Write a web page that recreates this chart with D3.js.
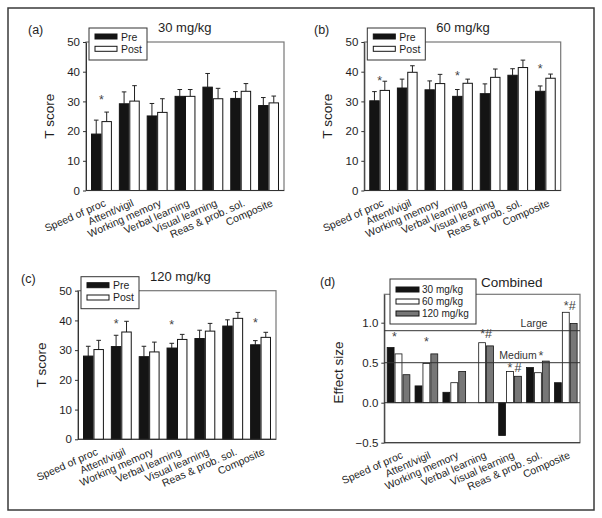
<!DOCTYPE html>
<html><head><meta charset="utf-8">
<script src="https://cdn.jsdelivr.net/npm/d3@7/dist/d3.min.js"></script>
<style>
body{margin:0;background:#fff;}
svg{display:block;font-family:"Liberation Sans",Arial,Helvetica,sans-serif;}
</style></head><body>
<svg id="chart" width="602" height="518"></svg>
<script>
// ---------------- DATA ----------------
const categories = ["Speed of proc","Attent/vigil","Working memory","Verbal learning","Visual learning","Reas & prob. sol.","Composite"];
const groups = ["Pre","Post"];
const tTicks = [0,10,20,30,40,50];
const esTicks = [-0.5,0,0.5,1.0];

const pre30   = [19.0,29.2,25.1,31.7,34.8,31.0,28.6];
const pre30E  = [4.7,4.0,4.2,2.3,4.6,2.3,2.7];
const post30  = [23.2,30.1,26.3,31.7,30.9,33.4,29.5];
const post30E = [3.2,5.2,4.6,2.3,3.5,2.6,2.3];

const pre60   = [30.2,34.5,33.9,31.7,32.6,38.8,33.4];
const pre60E  = [3.1,3.0,3.0,2.3,3.3,2.2,1.8];
const post60  = [33.7,39.8,36.0,36.1,38.1,41.4,37.8];
const post60E = [3.1,2.2,3.1,1.4,2.8,2.5,1.4];

const pre120   = [28.0,31.2,27.8,30.7,33.9,38.1,31.8];
const pre120E  = [3.3,3.8,3.5,1.6,2.8,2.1,1.4];
const post120  = [30.2,36.1,29.4,33.6,36.4,40.7,34.3];
const post120E = [3.1,3.6,3.3,1.7,2.6,2.0,1.7];

const es30  = [0.69,0.21,0.13,0,-0.41,0.44,0.25];
const es60  = [0.61,0.49,0.25,0.75,0.39,0.375,1.13];
const es120 = [0.35,0.61,0.39,0.71,0.33,0.52,0.99];
const esSeries = ["30 mg/kg","60 mg/kg","120 mg/kg"];

// significance marks: category, bar it sits over, value level, text
const stars30  = [{cat:"Speed of proc", over:"mid", v:30.8, t:"*"}];
const stars60  = [{cat:"Speed of proc", over:"mid", v:37.2, t:"*"},
                  {cat:"Verbal learning", over:"Pre", v:38.9, t:"*"},
                  {cat:"Composite", over:"Pre", v:41.3, t:"*"}];
const stars120 = [{cat:"Attent/vigil", over:"Pre", v:39.2, t:"*"},
                  {cat:"Verbal learning", over:"Pre", v:38.8, t:"*"},
                  {cat:"Composite", over:"Pre", v:39.6, t:"*"}];
const starsES  = [{cat:"Speed of proc", over:"60 mg/kg", v:0.83, t:"*", dx:-4},
                  {cat:"Attent/vigil", over:"60 mg/kg", v:0.77, t:"*", dx:0},
                  {cat:"Verbal learning", over:"60 mg/kg", v:0.87, t:"*#", dx:4},
                  {cat:"Visual learning", over:"60 mg/kg", v:0.45, t:"*", dx:0},
                  {cat:"Visual learning", over:"120 mg/kg", v:0.45, t:"#", dx:0},
                  {cat:"Reas & prob. sol.", over:"60 mg/kg", v:0.60, t:"*", dx:3},
                  {cat:"Composite", over:"60 mg/kg", v:1.22, t:"*#", dx:4}];
const refLines = [{v:0.9, label:"Large"},{v:0.5, label:"Medium"}];

// ---------------- DRAW ----------------
const svg = d3.select("#chart");
svg.append("rect").attr("x",8).attr("y",8).attr("width",586).attr("height",502)
  .attr("fill","none").attr("stroke","#3a3a3a").attr("stroke-width",1.5);

const FRAME = "#777", AX = "#333", TXT = "#1e1e1e";

function xLabels(g, x, y0){
  g.selectAll("text.xl").data(categories).join("text")
    .attr("class","xl")
    .attr("transform", d => `translate(${x(d)+x.bandwidth()/2+5},${y0+15}) rotate(-24)`)
    .attr("text-anchor","end").attr("font-size",10.5).attr("fill",TXT).text(d=>d);
}

function yAxis(g, y, ticks, left, fmt){
  const a = d3.axisLeft(y).tickValues(ticks).tickSize(3).tickSizeOuter(0).tickPadding(3);
  if (fmt) a.tickFormat(fmt);
  const ax = g.append("g").attr("transform",`translate(${left},0)`).call(a);
  ax.selectAll("text").attr("font-size",11.5).attr("fill",TXT).attr("font-family","Liberation Sans, Arial, sans-serif");
  ax.selectAll("line").attr("stroke",AX);
  ax.select(".domain").attr("stroke",AX);
}

function prePost(cfg){
  const {left,right,top,bottom,letter,letterX,title,pre,preE,post,postE,stars} = cfg;
  const g = svg.append("g");
  const x = d3.scaleBand().domain(categories).range([left,right]).paddingInner(0.25).paddingOuter(0.18);
  const xs = d3.scaleBand().domain(groups).range([0,x.bandwidth()]);
  const y = d3.scaleLinear().domain([0,50]).range([bottom,top]);
  g.append("rect").attr("x",left).attr("y",top).attr("width",right-left).attr("height",bottom-top)
    .attr("fill","none").attr("stroke",FRAME).attr("stroke-width",1.2);
  const rows = categories.map((c,i)=>[
    {c, s:"Pre", v:pre[i], e:preE[i]},
    {c, s:"Post", v:post[i], e:postE[i]}]).flat();
  const eb = g.selectAll("g.eb").data(rows).join("g").attr("class","eb");
  eb.append("line").attr("x1",d=>x(d.c)+xs(d.s)+xs.bandwidth()/2).attr("x2",d=>x(d.c)+xs(d.s)+xs.bandwidth()/2)
    .attr("y1",d=>y(d.v)).attr("y2",d=>y(d.v+d.e)).attr("stroke","#222");
  eb.append("line").attr("x1",d=>x(d.c)+xs(d.s)+xs.bandwidth()/2-2.3).attr("x2",d=>x(d.c)+xs(d.s)+xs.bandwidth()/2+2.3)
    .attr("y1",d=>y(d.v+d.e)).attr("y2",d=>y(d.v+d.e)).attr("stroke","#222");
  g.selectAll("rect.bar").data(rows).join("rect").attr("class","bar")
    .attr("x",d=>x(d.c)+xs(d.s)+0.5).attr("width",xs.bandwidth()-1)
    .attr("y",d=>y(d.v)).attr("height",d=>y(0)-y(d.v))
    .attr("fill",d=>d.s==="Pre"?"#141414":"#fff").attr("stroke","#141414").attr("stroke-width",1);
  yAxis(g,y,tTicks,left);
  g.append("line").attr("x1",left).attr("x2",right).attr("y1",bottom).attr("y2",bottom).attr("stroke",AX);
  xLabels(g,x,bottom);
  g.selectAll("text.st").data(stars).join("text").attr("class","st")
    .attr("x",d=> d.over==="mid" ? x(d.cat)+xs.bandwidth() : x(d.cat)+xs(d.over)+xs.bandwidth()/2)
    .attr("y",d=>y(d.v)+5).attr("text-anchor","middle").attr("font-size",12.5).attr("fill","#444").text(d=>d.t);
  g.append("text").attr("transform",`translate(${left-32},${(top+bottom)/2}) rotate(-90)`)
    .attr("text-anchor","middle").attr("font-size",13.5).attr("fill",TXT).text("T score");
  const lg = g.append("g").attr("transform",`translate(${left+3},${top-14})`);
  lg.append("rect").attr("width",58).attr("height",32).attr("fill","#fff").attr("stroke","#333");
  groups.forEach((s,i)=>{
    lg.append("rect").attr("x",6).attr("y",6+i*12.3).attr("width",22).attr("height",5)
      .attr("fill",s==="Pre"?"#141414":"#fff").attr("stroke","#141414");
    lg.append("text").attr("x",32).attr("y",12.5+i*12.3).attr("font-size",10.5).attr("fill",TXT).text(s);
  });
  g.append("text").attr("x",left+72).attr("y",top-10).attr("font-size",13).attr("fill",TXT).text(title);
  g.append("text").attr("x",letterX).attr("y",top-8).attr("font-size",12.5).attr("fill",TXT).text(letter);
}

prePost({left:86,right:284,top:42,bottom:190.5,letter:"(a)",letterX:28,title:"30 mg/kg",
  pre:pre30,preE:pre30E,post:post30,postE:post30E,stars:stars30});
prePost({left:364.3,right:560.7,top:42,bottom:190.5,letter:"(b)",letterX:314,title:"60 mg/kg",
  pre:pre60,preE:pre60E,post:post60,postE:post60E,stars:stars60});
prePost({left:78,right:276,top:290.7,bottom:439.3,letter:"(c)",letterX:21,title:"120 mg/kg",
  pre:pre120,preE:pre120E,post:post120,postE:post120E,stars:stars120});

// ---- panel d ----
(function(){
  const left=384.3,right=580,bottom=442.7;
  const g = svg.append("g");
  const y = d3.scaleLinear().domain([-0.5,1.355]).range([bottom,294.3]);
  const top = y(1.355);
  const x = d3.scaleBand().domain(categories).range([left,right]).paddingInner(0.15).paddingOuter(0.085);
  const xs = d3.scaleBand().domain(esSeries).range([0,x.bandwidth()]);
  const colors = {"30 mg/kg":"#141414","60 mg/kg":"#fff","120 mg/kg":"#777"};
  const vals = {"30 mg/kg":es30,"60 mg/kg":es60,"120 mg/kg":es120};
  g.append("rect").attr("x",left).attr("y",top).attr("width",right-left).attr("height",bottom-top)
    .attr("fill","none").attr("stroke",FRAME).attr("stroke-width",1.2);
  const rows = categories.map((c,i)=>esSeries.map(s=>({c,s,v:vals[s][i]}))).flat();
  g.selectAll("rect.bar").data(rows.filter(d=>d.v!==0)).join("rect").attr("class","bar")
    .attr("x",d=>x(d.c)+xs(d.s)+0.5).attr("width",xs.bandwidth()-1)
    .attr("y",d=>y(Math.max(0,d.v))).attr("height",d=>Math.abs(y(d.v)-y(0)))
    .attr("fill",d=>colors[d.s]).attr("stroke","#141414").attr("stroke-width",0.8);
  refLines.forEach(r=>{
    g.append("line").attr("x1",left).attr("x2",right).attr("y1",y(r.v)).attr("y2",y(r.v)).attr("stroke","#333").attr("stroke-width",1);
  });
  g.append("text").attr("x",534).attr("y",y(0.9)-4).attr("text-anchor","middle").attr("font-size",10.5).attr("fill","#333").text(refLines[0].label);
  g.append("text").attr("x",518).attr("y",y(0.5)-4).attr("text-anchor","middle").attr("font-size",10.5).attr("fill","#333").text(refLines[1].label);
  g.append("line").attr("x1",left).attr("x2",right).attr("y1",y(0)).attr("y2",y(0)).attr("stroke",AX);
  yAxis(g,y,esTicks,left,d3.format(".1f"));
  g.append("line").attr("x1",left).attr("x2",right).attr("y1",bottom).attr("y2",bottom).attr("stroke",AX);
  xLabels(g,x,bottom);
  g.selectAll("text.st").data(starsES).join("text").attr("class","st")
    .attr("x",d=>x(d.cat)+xs(d.over)+xs.bandwidth()/2+d.dx)
    .attr("y",d=>y(d.v)+5).attr("text-anchor","middle").attr("font-size",12.5).attr("fill","#444").text(d=>d.t);
  g.append("text").attr("transform",`translate(${left-41},${(top+bottom)/2+4}) rotate(-90)`)
    .attr("text-anchor","middle").attr("font-size",13.5).attr("fill",TXT).text("Effect size");
  const lg = g.append("g").attr("transform",`translate(390,279)`);
  lg.append("rect").attr("width",86).attr("height",45).attr("fill","#fff").attr("stroke","#333");
  esSeries.forEach((s,i)=>{
    lg.append("rect").attr("x",6).attr("y",8+i*12).attr("width",23).attr("height",5)
      .attr("fill",colors[s]).attr("stroke","#141414");
    lg.append("text").attr("x",32).attr("y",14+i*12).attr("font-size",10).attr("fill",TXT).text(s);
  });
  g.append("text").attr("x",481).attr("y",287).attr("font-size",13.5).attr("fill",TXT).text("Combined");
  g.append("text").attr("x",320).attr("y",286).attr("font-size",12.5).attr("fill",TXT).text("(d)");
})();
</script></body></html>
